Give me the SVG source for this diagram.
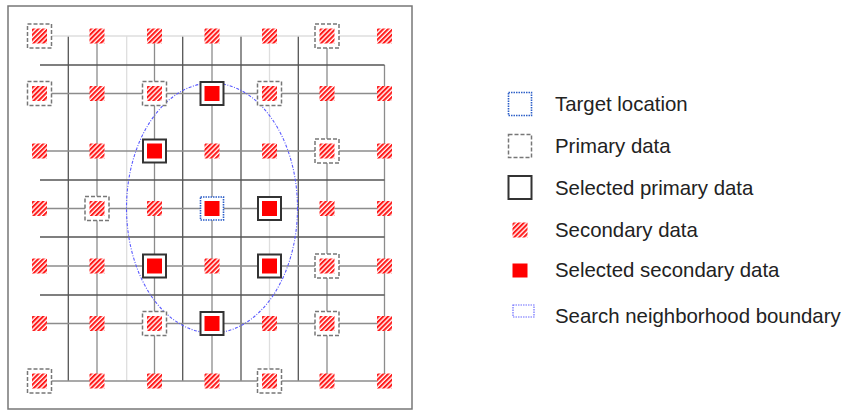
<svg xmlns="http://www.w3.org/2000/svg" width="843" height="411" viewBox="0 0 843 411">
<style>
.frame{fill:#fff;stroke:#777;stroke-width:1.5}
.dk{stroke:#555;stroke-width:1.3;fill:none}
.md{stroke:#8c8c8c;stroke-width:1.3;fill:none}
.lt{stroke:#dedede;stroke-width:1.3;fill:none}
.prim{fill:#fff;stroke:#777;stroke-width:1.5;stroke-dasharray:4 2}
.selp{fill:#fff;stroke:#333;stroke-width:2}
.tgt{fill:#fff;stroke:#2d5fc8;stroke-width:1.6;stroke-dasharray:1.5 1}
.red{fill:#ff0000}
.hat{fill:url(#hatch)}
.bound{fill:none;stroke:#5a5aff;stroke-width:1.1;stroke-dasharray:3 1.5 1 1.5}
.lbl{font-family:"Liberation Sans",Arial,sans-serif;font-size:20.4px;fill:#222}
</style>
<defs>
<pattern id="hatch" patternUnits="userSpaceOnUse" width="3.4" height="3.4" patternTransform="rotate(45)">
<rect width="3.4" height="3.4" fill="#fff"/>
<line x1="1" y1="0" x2="1" y2="3.4" stroke="#ff1a1a" stroke-width="2.1"/>
</pattern>
<g id="sec"><rect class="hat" x="-7.5" y="-7.5" width="15" height="15"/></g>
<g id="ssec"><rect class="red" x="-7.5" y="-7.5" width="15" height="15"/></g>
<g id="prim"><rect class="prim" x="-12" y="-12" width="24" height="24"/><use href="#sec"/></g>
<g id="selp"><rect class="selp" x="-11.5" y="-11.5" width="23" height="23"/><use href="#ssec"/></g>
<g id="tgt"><rect class="tgt" x="-11.5" y="-11.5" width="23" height="23"/><use href="#ssec"/></g>
</defs>
<rect class="frame" x="8" y="6" width="404" height="403"/>
<g id="connectors">
<line class="dk" x1="68.3" y1="36" x2="68.3" y2="381"/>
<line class="md" x1="97" y1="36" x2="97" y2="381"/>
<line class="lt" x1="126.7" y1="36" x2="126.7" y2="381"/>
<line class="md" x1="154.5" y1="36" x2="154.5" y2="381"/>
<line class="dk" x1="182.7" y1="36" x2="182.7" y2="381"/>
<line class="md" x1="212" y1="36" x2="212" y2="381"/>
<line class="dk" x1="241" y1="36" x2="241" y2="381"/>
<line class="lt" x1="269.5" y1="36" x2="269.5" y2="381"/>
<line class="dk" x1="298.3" y1="36" x2="298.3" y2="381"/>
<line class="md" x1="327" y1="36" x2="327" y2="381"/>
<line class="md" x1="384.5" y1="65" x2="384.5" y2="381"/>
<line class="lt" x1="39.5" y1="36" x2="384.5" y2="36"/>
<line class="dk" x1="40" y1="65" x2="384.5" y2="65"/>
<line class="md" x1="39.5" y1="93.5" x2="384.5" y2="93.5"/>
<line class="md" x1="39.5" y1="151" x2="384.5" y2="151"/>
<line class="dk" x1="40" y1="180" x2="384.5" y2="180"/>
<line class="md" x1="39.5" y1="208.5" x2="384.5" y2="208.5"/>
<line class="dk" x1="40" y1="237" x2="384.5" y2="237"/>
<line class="md" x1="39.5" y1="266" x2="384.5" y2="266"/>
<line class="dk" x1="40" y1="295" x2="384.5" y2="295"/>
<line class="md" x1="39.5" y1="323.5" x2="384.5" y2="323.5"/>
<line class="md" x1="39.5" y1="381" x2="384.5" y2="381"/>
</g>
<ellipse id="search-boundary" class="bound" cx="212" cy="208" rx="85.5" ry="125"/>
<g id="nodes">
<g id="n11" transform="translate(39.5,36)"><use href="#prim"/></g>
<g id="n12" transform="translate(97,36)"><use href="#sec"/></g>
<g id="n13" transform="translate(154.5,36)"><use href="#sec"/></g>
<g id="n14" transform="translate(212,36)"><use href="#sec"/></g>
<g id="n15" transform="translate(269.5,36)"><use href="#sec"/></g>
<g id="n16" transform="translate(327,36)"><use href="#prim"/></g>
<g id="n17" transform="translate(384.5,36)"><use href="#sec"/></g>
<g id="n21" transform="translate(39.5,93.5)"><use href="#prim"/></g>
<g id="n22" transform="translate(97,93.5)"><use href="#sec"/></g>
<g id="n23" transform="translate(154.5,93.5)"><use href="#prim"/></g>
<g id="n24" transform="translate(212,93.5)"><use href="#selp"/></g>
<g id="n25" transform="translate(269.5,93.5)"><use href="#prim"/></g>
<g id="n26" transform="translate(327,93.5)"><use href="#sec"/></g>
<g id="n27" transform="translate(384.5,93.5)"><use href="#sec"/></g>
<g id="n31" transform="translate(39.5,151)"><use href="#sec"/></g>
<g id="n32" transform="translate(97,151)"><use href="#sec"/></g>
<g id="n33" transform="translate(154.5,151)"><use href="#selp"/></g>
<g id="n34" transform="translate(212,151)"><use href="#sec"/></g>
<g id="n35" transform="translate(269.5,151)"><use href="#sec"/></g>
<g id="n36" transform="translate(327,151)"><use href="#prim"/></g>
<g id="n37" transform="translate(384.5,151)"><use href="#sec"/></g>
<g id="n41" transform="translate(39.5,208.5)"><use href="#sec"/></g>
<g id="n42" transform="translate(97,208.5)"><use href="#prim"/></g>
<g id="n43" transform="translate(154.5,208.5)"><use href="#sec"/></g>
<g id="n44" transform="translate(212,208.5)"><use href="#tgt"/></g>
<g id="n45" transform="translate(269.5,208.5)"><use href="#selp"/></g>
<g id="n46" transform="translate(327,208.5)"><use href="#sec"/></g>
<g id="n47" transform="translate(384.5,208.5)"><use href="#sec"/></g>
<g id="n51" transform="translate(39.5,266)"><use href="#sec"/></g>
<g id="n52" transform="translate(97,266)"><use href="#sec"/></g>
<g id="n53" transform="translate(154.5,266)"><use href="#selp"/></g>
<g id="n54" transform="translate(212,266)"><use href="#sec"/></g>
<g id="n55" transform="translate(269.5,266)"><use href="#selp"/></g>
<g id="n56" transform="translate(327,266)"><use href="#prim"/></g>
<g id="n57" transform="translate(384.5,266)"><use href="#sec"/></g>
<g id="n61" transform="translate(39.5,323.5)"><use href="#sec"/></g>
<g id="n62" transform="translate(97,323.5)"><use href="#sec"/></g>
<g id="n63" transform="translate(154.5,323.5)"><use href="#prim"/></g>
<g id="n64" transform="translate(212,323.5)"><use href="#selp"/></g>
<g id="n65" transform="translate(269.5,323.5)"><use href="#sec"/></g>
<g id="n66" transform="translate(327,323.5)"><use href="#prim"/></g>
<g id="n67" transform="translate(384.5,323.5)"><use href="#sec"/></g>
<g id="n71" transform="translate(39.5,381)"><use href="#prim"/></g>
<g id="n72" transform="translate(97,381)"><use href="#sec"/></g>
<g id="n73" transform="translate(154.5,381)"><use href="#sec"/></g>
<g id="n74" transform="translate(212,381)"><use href="#sec"/></g>
<g id="n75" transform="translate(269.5,381)"><use href="#prim"/></g>
<g id="n76" transform="translate(327,381)"><use href="#sec"/></g>
<g id="n77" transform="translate(384.5,381)"><use href="#sec"/></g>
</g>
<g id="legend">
<g id="lg-target"><rect class="tgt" x="508.5" y="92.5" width="23" height="23"/><text class="lbl" x="555" y="110.5">Target location</text></g>
<g id="lg-primary"><rect class="prim" x="508.5" y="134.5" width="23" height="23"/><text class="lbl" x="555" y="152.5">Primary data</text></g>
<g id="lg-selprimary"><rect class="selp" x="508.5" y="176" width="23" height="23"/><text class="lbl" x="555" y="194.5">Selected primary data</text></g>
<g id="lg-secondary"><rect class="hat" x="512.5" y="222.5" width="15" height="15"/><text class="lbl" x="555" y="236.5">Secondary data</text></g>
<g id="lg-selsecondary"><rect class="red" x="512.5" y="263.5" width="15" height="14"/><text class="lbl" x="555" y="277">Selected secondary data</text></g>
<g id="lg-boundary"><rect x="513" y="305" width="21" height="12" fill="none" stroke="#6b6bff" stroke-width="1.2" stroke-dasharray="1.5 1"/><text class="lbl" x="555" y="323">Search neighborhood boundary</text></g>
</g>
</svg>
